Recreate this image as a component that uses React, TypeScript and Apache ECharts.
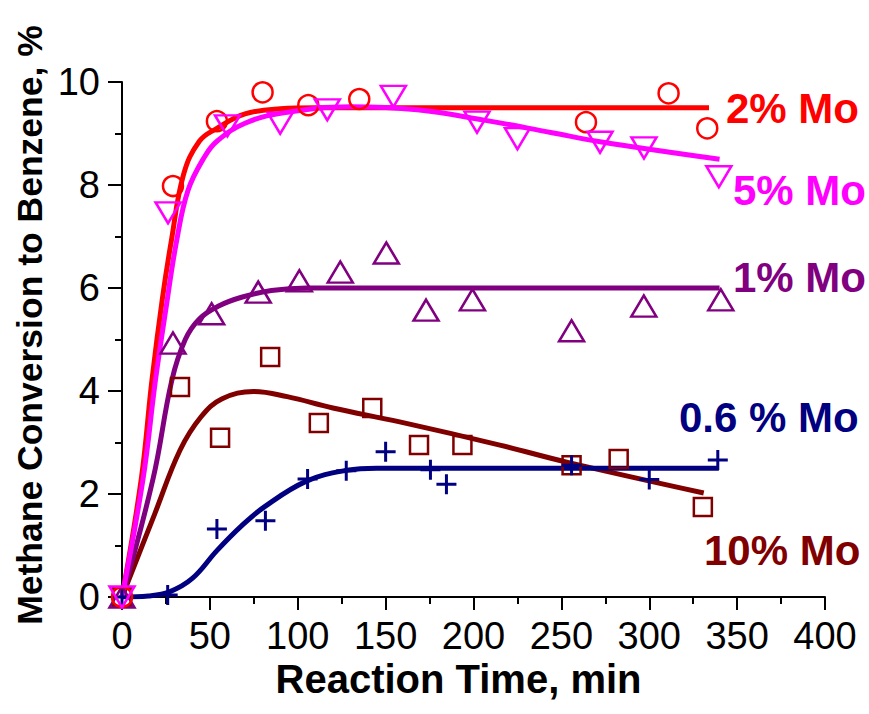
import React, { useEffect, useRef } from 'react';
import * as echarts from 'echarts';

// Measured points (time in min, conversion in %)
const mo2Time = [0, 29, 54, 80, 106, 135, 211, 264, 311, 333];
const mo2Conv = [0, 7.98, 9.24, 9.8, 9.55, 9.67, 10.27, 9.22, 9.78, 9.1];
const mo5Time = [0, 26.2, 60, 90, 116.8, 154.4, 202, 225, 272, 297, 339.6];
const mo5Conv = [0, 7.46, 9.15, 9.2, 9.46, 9.72, 9.22, 8.9, 8.83, 8.72, 8.16];
const mo1Time = [0, 29, 51, 77.5, 100.9, 124.2, 150.4, 173, 199.4, 255.8, 296.9, 340.7];
const mo1Conv = [0, 4.93, 5.5, 5.92, 6.14, 6.31, 6.68, 5.57, 5.77, 5.17, 5.65, 5.77];
const mo10Time = [0, 33, 55.8, 84.3, 112, 142.4, 169, 193.7, 255.8, 282.6, 330.5];
const mo10Conv = [0, 4.08, 3.09, 4.66, 3.38, 3.67, 2.95, 2.95, 2.56, 2.68, 1.75];
const mo06Time = [0, 26, 54, 81.6, 105.6, 127.6, 150, 175.5, 184.6, 255.8, 300, 339];
const mo06Conv = [0, 0.04, 1.32, 1.48, 2.29, 2.45, 2.82, 2.47, 2.19, 2.56, 2.28, 2.66];

// Fitted curves
const fit2Time = [0, 11, 17, 23, 28, 35, 44, 54, 70, 90, 110, 334];
const fit2Conv = [0, 2.3, 4.2, 5.8, 6.9, 8.2, 8.85, 9.1, 9.38, 9.48, 9.5, 9.5];
const fit5Time = [0, 12, 19, 25, 31, 37.6, 47, 54, 70, 92, 130, 168, 206, 244, 272, 340];
const fit5Conv = [0, 2.3, 4.2, 5.6, 6.9, 7.9, 8.55, 8.85, 9.2, 9.4, 9.52, 9.46, 9.26, 9.02, 8.84, 8.5];
const fit1Time = [0, 17.7, 28.3, 36, 44, 55, 68, 85, 105, 340];
const fit1Conv = [0, 2.3, 4.2, 5.0, 5.4, 5.65, 5.82, 5.95, 6.0, 6.0];
const fit10Time = [0, 18.8, 33, 45, 57, 75, 94, 120, 158, 215, 253, 331];
const fit10Conv = [0, 1.63, 2.85, 3.5, 3.85, 3.99, 3.89, 3.67, 3.4, 2.95, 2.62, 2.02];
const fit06Time = [0, 15, 27, 40, 54, 68, 81, 105, 128, 145, 339.6];
const fit06Conv = [0, 0.02, 0.1, 0.36, 0.9, 1.38, 1.75, 2.25, 2.46, 2.5, 2.5];

const seriesLabels = ['2% Mo', '5% Mo', '1% Mo', '0.6 % Mo', '10% Mo'];
const xAxisTitle = 'Reaction Time, min';
const yAxisTitle = 'Methane Conversion to Benzene, %';

const RED = '#FF0000';
const MAGENTA = '#FF00FF';
const PURPLE = '#800080';
const DARKRED = '#800000';
const NAVY = '#000080';
const FONT = '"Liberation Sans", Arial, Helvetica, sans-serif';

const zip = (xs: number[], ys: number[]) => xs.map((x, i) => [x, ys[i]]);

export default function App() {
  const ref = useRef<HTMLDivElement>(null);
  useEffect(() => {
    document.body.style.margin = '0';
    if (!ref.current) return;
    const chart = echarts.init(ref.current, null, { renderer: 'svg' });

    const fitLine = (name: string, xs: number[], ys: number[], color: string, z: number) => ({
      name,
      type: 'line',
      data: zip(xs, ys),
      smooth: 0.4,
      showSymbol: false,
      symbol: 'none',
      lineStyle: { color, width: 5 },
      z,
      silent: true,
    });
    const scatter = (name: string, xs: number[], ys: number[], color: string, symbol: string, size: any, rotate: number, z: number, bw = 2.5) => ({
      name,
      type: 'scatter',
      data: zip(xs, ys),
      symbol,
      symbolSize: size,
      symbolRotate: rotate,
      itemStyle: { color: 'none', borderColor: color, borderWidth: bw, opacity: 1 },
      z,
      silent: true,
    });

    const labelText = (text: string, x: number, y: number, color: string) => ({
      type: 'text',
      x,
      y,
      style: {
        text,
        fill: color,
        font: `bold 42px ${FONT}`,
        align: 'left',
        verticalAlign: 'middle',
      },
    });

    chart.setOption({
      animation: false,
      backgroundColor: '#ffffff',
      grid: { left: 122, right: 44, top: 82, bottom: 117, containLabel: false, outerBoundsMode: 'none' },
      xAxis: {
        type: 'value',
        min: 0,
        max: 400,
        interval: 50,
        axisLine: { show: true, onZero: false, lineStyle: { color: '#000', width: 2 } },
        axisTick: { show: true, inside: false, length: 13, lineStyle: { color: '#000', width: 2 } },
        minorTick: { show: true, splitNumber: 2, length: 7, lineStyle: { color: '#000', width: 2 } },
        splitLine: { show: false },
        minorSplitLine: { show: false },
        axisLabel: { color: '#000', fontSize: 38, fontFamily: FONT, margin: 20 },
      },
      yAxis: {
        type: 'value',
        min: 0,
        max: 10,
        interval: 2,
        axisLine: { show: true, onZero: false, lineStyle: { color: '#000', width: 2 } },
        axisTick: { show: true, inside: false, length: 14, lineStyle: { color: '#000', width: 2 } },
        minorTick: { show: true, splitNumber: 2, length: 7, lineStyle: { color: '#000', width: 2 } },
        splitLine: { show: false },
        minorSplitLine: { show: false },
        axisLabel: { color: '#000', fontSize: 38, fontFamily: FONT, margin: 22 },
      },
      series: [
        fitLine('fit10', fit10Time, fit10Conv, DARKRED, 2),
        fitLine('fit06', fit06Time, fit06Conv, NAVY, 3),
        fitLine('fit1', fit1Time, fit1Conv, PURPLE, 4),
        fitLine('fit2', fit2Time, fit2Conv, RED, 5),
        fitLine('fit5', fit5Time, fit5Conv, MAGENTA, 6),
        scatter('10% Mo', mo10Time, mo10Conv, DARKRED, 'rect', 18, 0, 7),
        scatter('0.6 % Mo', mo06Time, mo06Conv, NAVY, 'path://M10,0L10,20M0,10L20,10', 20, 0, 8, 3),
        scatter('1% Mo', mo1Time, mo1Conv, PURPLE, 'triangle', [25, 21], 0, 9),
        scatter('2% Mo', mo2Time, mo2Conv, RED, 'circle', 20, 0, 10),
        scatter('5% Mo', mo5Time, mo5Conv, MAGENTA, 'triangle', [25, 21], 180, 11),
      ],
      graphic: [
        labelText(seriesLabels[0], 726, 108.5, RED),
        labelText(seriesLabels[1], 733, 190, MAGENTA),
        labelText(seriesLabels[2], 733, 277, PURPLE),
        labelText(seriesLabels[3], 679, 417.5, NAVY),
        labelText(seriesLabels[4], 704, 550, DARKRED),
        {
          type: 'text',
          x: 458.5,
          y: 679,
          style: {
            text: xAxisTitle,
            fill: '#000',
            font: `bold 40px ${FONT}`,
            align: 'center',
            verticalAlign: 'middle',
          },
        },
        {
          type: 'text',
          x: 30,
          y: 325,
          rotation: Math.PI / 2,
          style: {
            text: yAxisTitle,
            fill: '#000',
            font: `bold 35.5px ${FONT}`,
            align: 'center',
            verticalAlign: 'middle',
          },
        },
      ],
    });
    return () => chart.dispose();
  }, []);
  return <div ref={ref} style={{ width: 869, height: 714 }} />;
}
